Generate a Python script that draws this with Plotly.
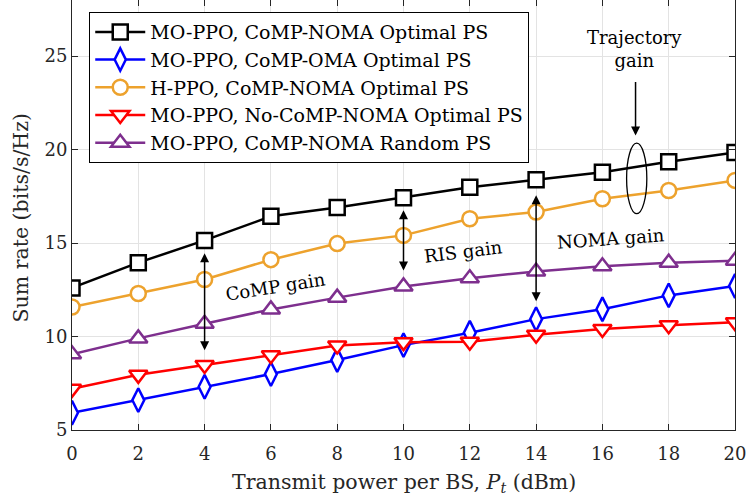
import plotly.graph_objects as go

x_vals = [0, 2, 4, 6, 8, 10, 12, 14, 16, 18, 20]

mo_ppo_comp_noma = [12.6, 13.95, 15.14, 16.43, 16.9, 17.42, 17.98, 18.38, 18.79, 19.35, 19.84]
mo_ppo_comp_oma = [5.92, 6.6, 7.31, 7.99, 8.74, 9.54, 10.2, 10.93, 11.46, 12.2, 12.7]
h_ppo_comp_noma = [11.58, 12.3, 13.05, 14.11, 14.97, 15.41, 16.3, 16.66, 17.37, 17.81, 18.35]
mo_ppo_nocomp_noma = [7.2, 7.95, 8.48, 9.0, 9.52, 9.7, 9.72, 10.1, 10.4, 10.6, 10.76]
mo_ppo_random_ps = [9.05, 9.9, 10.68, 11.45, 12.08, 12.68, 13.12, 13.48, 13.76, 13.95, 14.05]

names = [
    "MO-PPO, CoMP-NOMA Optimal PS",
    "MO-PPO, CoMP-OMA Optimal PS",
    "H-PPO, CoMP-NOMA Optimal PS",
    "MO-PPO, No-CoMP-NOMA Optimal PS",
    "MO-PPO, CoMP-NOMA Random PS",
]
series = [mo_ppo_comp_noma, mo_ppo_comp_oma, h_ppo_comp_noma, mo_ppo_nocomp_noma, mo_ppo_random_ps]
colors = ["#000000", "#0000FF", "#EDA22D", "#FF0000", "#7E2F8E"]
symbols = ["square", "diamond-tall", "circle", "triangle-down", "triangle-up"]
sizes = [15, 17, 15, 16, 16]

FONT = "DejaVu Serif"
FS = 18
TITLE_FS = 20.5

fig = go.Figure()
for name, ys, c, s, sz in zip(names, series, colors, symbols, sizes):
    fig.add_trace(go.Scatter(
        x=x_vals, y=ys, name=name, mode="lines+markers",
        line=dict(color=c, width=2.5),
        marker=dict(symbol=s, size=sz, color="white", line=dict(color=c, width=2.5)),
    ))

ann_font = dict(family=FONT, size=FS, color="black")
arrow_common = dict(xref="x", yref="y", axref="x", ayref="y", showarrow=True,
                    arrowhead=2, arrowwidth=1.5, arrowsize=1.2, arrowcolor="black", text="")
double = dict(startarrowhead=2, startarrowsize=1.2, arrowside="end+start")
annotations = [
    dict(x=4, y=14.45, ax=4, ay=9.18, **arrow_common, **double),
    dict(x=10, y=16.75, ax=10, ay=13.45, **arrow_common, **double),
    dict(x=14, y=17.55, ax=14, ay=11.8, **arrow_common, **double),
    dict(x=17, y=20.75, ax=17, ay=23.7, **arrow_common),
    dict(x=6.15, y=12.7, xref="x", yref="y", text="CoMP gain", showarrow=False,
         textangle=-9, font=ann_font),
    dict(x=11.8, y=14.56, xref="x", yref="y", text="RIS gain", showarrow=False,
         textangle=-7, font=ann_font),
    dict(x=16.27, y=15.25, xref="x", yref="y", text="NOMA gain", showarrow=False,
         textangle=-4, font=ann_font),
    dict(x=16.98, y=25.4, xref="x", yref="y", text="Trajectory<br>gain", showarrow=False,
         font=ann_font),
    # axis titles
    dict(x=0.5015, y=-0.124, xref="paper", yref="paper", xanchor="center", yanchor="middle",
         text="Transmit power per BS, <i>P</i><sub><i>t</i></sub> (dBm)", showarrow=False,
         font=dict(family=FONT, size=TITLE_FS, color="#262626")),
    dict(x=-0.077, y=0.494, xref="paper", yref="paper", xanchor="center", yanchor="middle",
         text="Sum rate (bits/s/Hz)", showarrow=False, textangle=-90,
         font=dict(family=FONT, size=TITLE_FS, color="#262626")),
]
fig.update_layout(annotations=annotations)

fig.add_shape(type="circle", xref="x", yref="y", x0=16.73, x1=17.34, y0=16.57, y1=20.34,
              line=dict(color="black", width=1.3))

axis_common = dict(
    showline=True, linecolor="#262626", linewidth=1, mirror="ticks",
    ticks="inside", ticklen=6, tickcolor="#262626",
    showgrid=True, gridcolor="#E3E3E3", gridwidth=1, zeroline=False,
    tickfont=dict(family=FONT, size=FS, color="#262626"),
    automargin=False,
)
fig.update_xaxes(range=[0, 20], dtick=2, tick0=0, ticklabelstandoff=7, **axis_common)
fig.update_yaxes(range=[5, 28], dtick=5, tick0=5, **axis_common)

fig.update_layout(
    width=747, height=497,
    margin=dict(l=72, r=12, t=0, b=67),
    plot_bgcolor="white", paper_bgcolor="white",
    font=dict(family=FONT, size=FS, color="black"),
    legend=dict(x=0.026, y=0.972, xanchor="left", yanchor="top",
                bgcolor="white", bordercolor="black", borderwidth=1,
                font=dict(family=FONT, size=19, color="black"),
                tracegroupgap=0, itemwidth=50),
    showlegend=True,
)

fig.write_html("out.html", config={"displayModeBar": False},
               post_script="document.body.style.margin='0';document.body.style.overflow='hidden';")
